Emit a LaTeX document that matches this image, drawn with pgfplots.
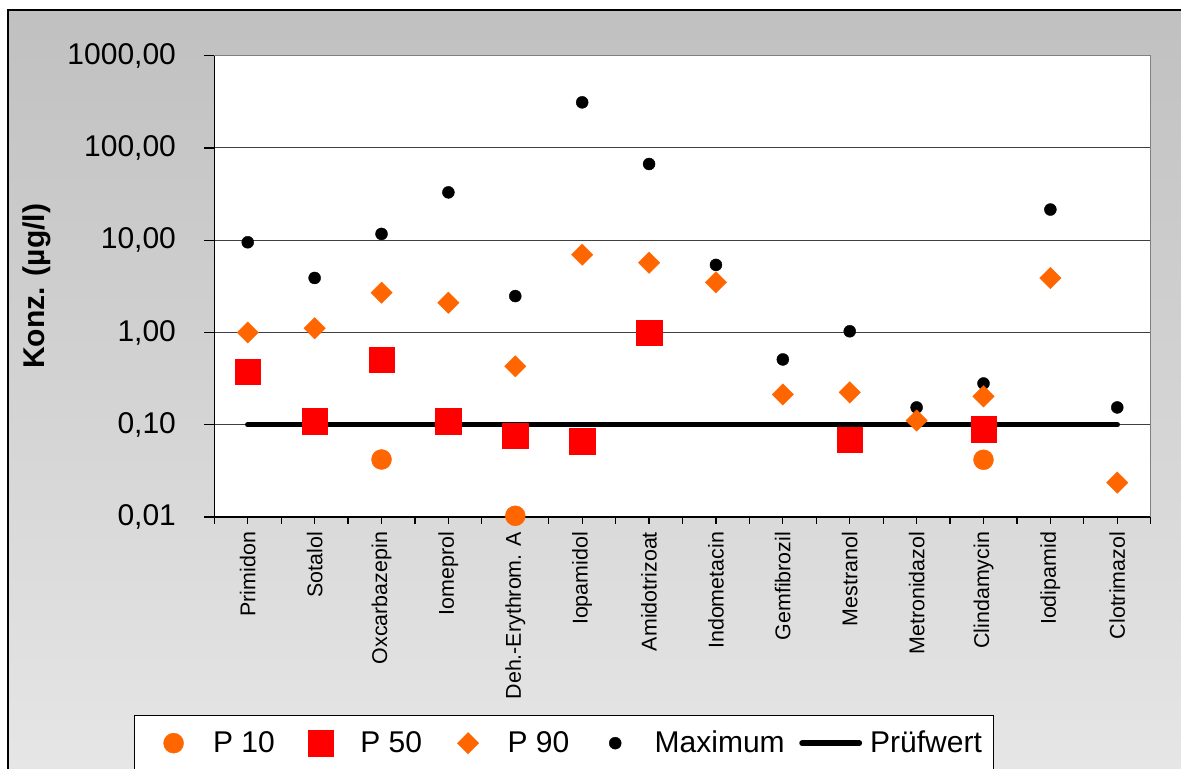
\documentclass[border=0pt]{standalone}
\usepackage{pgfplots}
\pgfplotsset{compat=1.18}
\usepackage{fontspec}
\setmainfont{Liberation Sans}

\definecolor{orangeP}{HTML}{FF6600}
\definecolor{redP}{HTML}{FF0000}
\definecolor{gridgray}{HTML}{404040}
\definecolor{framegray}{HTML}{808080}
\definecolor{bgtop}{HTML}{C0C0C0}
\definecolor{bgbottom}{HTML}{E6E6E6}

% legend slots 31.5pt wide, like the Excel legend
\pgfplotsset{
  markslot/.style={legend image code/.code={%
    \path[draw=none,fill=none] (0pt,0pt) -- (31.5pt,0pt);
    \draw[##1,only marks] plot coordinates {(15.75pt,0pt)};}},
  lineslot/.style={legend image code/.code={%
    \draw[##1] (1.4pt,0pt) -- (30.1pt,0pt);}},
}

\begin{document}
\begin{tikzpicture}
\useasboundingbox (0pt,0pt) rectangle (590.5pt,384.5pt);
\shade[top color=bgtop, bottom color=bgbottom] (4pt,0pt) rectangle (590.5pt,379.5pt);
\draw[black, line width=0.6pt] (4pt,-2pt) -- (4pt,379.5pt) -- (592pt,379.5pt);
\begin{axis}[
  at={(107.15pt,126pt)}, anchor=south west,
  scale only axis, width=468.2pt, height=230.65pt,
  clip=false,
  axis background/.style={fill=white},
  ymode=log, ymin=0.01, ymax=1000,
  xmin=-0.5, xmax=13.5,
  axis lines*=left,
  axis line style={black, line width=0.6pt},
  tick align=outside,
  major tick length=5pt,
  tick style={black, line width=0.6pt},
  xtick={-0.5,0.5,...,13.5},
  xticklabels={},
  xtick style={/pgfplots/major tick length=3.5pt},
  extra x ticks={0,1,...,13},
  extra x tick labels={Primidon,Sotalol,Oxcarbazepin,Iomeprol,Deh.-Erythrom. A,Iopamidol,Amidotrizoat,Indometacin,Gemfibrozil,Mestranol,Metronidazol,Clindamycin,Iodipamid,Clotrimazol},
  extra x tick style={/pgfplots/major tick length=0pt},
  xticklabel style={rotate=90, anchor=east, font=\fontsize{10.7}{12.8}\selectfont, xshift=-4pt},
  ytick={0.01,0.1,1,10,100,1000},
  yticklabels={{0,01},{0,10},{1,00},{10,00},{100,00},{1000,00}},
  yminorticks=false,
  yticklabel style={font=\fontsize{15}{18}\selectfont, xshift=-10.65pt},
  ymajorgrids, major grid style={gridgray, line width=0.5pt},
  ylabel={Konz. (µg/l)},
  ylabel style={at={(axis description cs:0,0.5)}, anchor=center, yshift=88.65pt, font=\fontsize{15}{18}\selectfont\bfseries},
  legend columns=5,
  legend style={at={(-0.08575,-0.42922)}, anchor=north west, draw=black, line width=0.6pt, fill=white,
    font=\fontsize{15}{18}\selectfont, inner xsep=3.75pt, inner ysep=5.6pt,
    /tikz/every odd column/.append style={column sep=2pt},
    /tikz/every even column/.append style={column sep=5.25pt}},
]
\draw[framegray, line width=0.75pt] (rel axis cs:0,1) -- (rel axis cs:1,1) -- (rel axis cs:1,0);

\addlegendimage{only marks, mark=*, color=orangeP, mark size=5pt, mark options={line width=0.2pt}, markslot}
\addlegendentry{P 10}
\addlegendimage{only marks, mark=square*, color=redP, mark size=6.4pt, mark options={line width=0.2pt}, markslot}
\addlegendentry{P 50}
\addlegendimage{only marks, mark=square*, color=orangeP, mark size=3.77pt, mark options={rotate=45, line width=0.2pt}, markslot}
\addlegendentry{P 90}
\addlegendimage{only marks, mark=*, color=black, mark size=3pt, mark options={line width=0.2pt}, markslot}
\addlegendentry{Maximum}
\addlegendimage{black, line width=2.75pt, line cap=round, lineslot}
\addlegendentry{Prüfwert}

% Prüfwert
\addplot[black, line width=2.75pt, line cap=round, forget plot] coordinates {
  (0,0.1) (1,0.1) (2,0.1) (3,0.1) (4,0.1) (5,0.1) (6,0.1)
  (7,0.1) (8,0.1) (9,0.1) (10,0.1) (11,0.1) (12,0.1) (13,0.1)};
% Maximum
\addplot[only marks, mark=*, color=black, mark size=3pt, mark options={line width=0.2pt}, forget plot] coordinates {
  (0,9.5) (1,3.9) (2,11.7) (3,33) (4,2.48) (5,312) (6,67)
  (7,5.4) (8,0.51) (9,1.03) (10,0.154) (11,0.28) (12,21.5) (13,0.154)};
% P 10
\addplot[only marks, mark=*, color=orangeP, mark size=5pt, mark options={line width=0.2pt}, forget plot] coordinates {
  (2,0.042) (4,0.0103) (11,0.0417)};
% P 50
\addplot[only marks, mark=square*, color=redP, mark size=6.4pt, mark options={line width=0.2pt}, forget plot] coordinates {
  (0,0.377) (1,0.109) (2,0.509) (3,0.109) (4,0.0759) (5,0.0664)
  (6,0.99) (9,0.0687) (11,0.0896)};
% P 90
\addplot[only marks, mark=square*, color=orangeP, mark size=3.77pt, mark options={rotate=45, line width=0.2pt}, forget plot] coordinates {
  (0,1.0) (1,1.11) (2,2.7) (3,2.1) (4,0.43) (5,6.97) (6,5.7)
  (7,3.5) (8,0.213) (9,0.224) (10,0.111) (11,0.203) (12,3.89) (13,0.0236)};
\end{axis}
\end{tikzpicture}
\end{document}
